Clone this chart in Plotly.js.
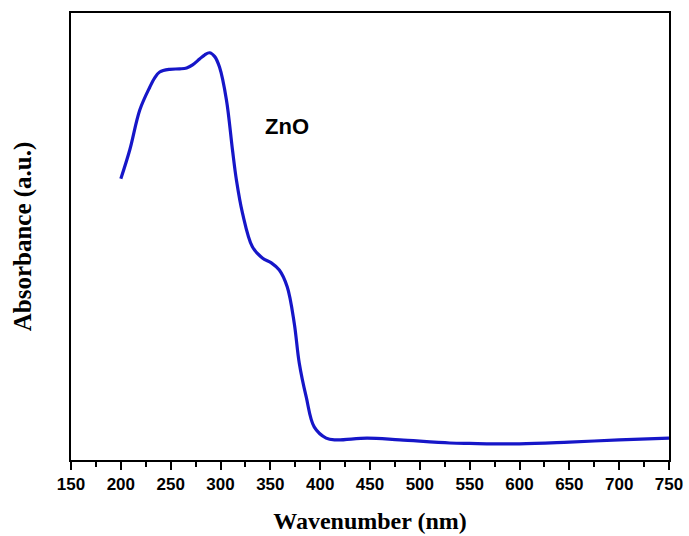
<!DOCTYPE html>
<html>
<head>
<meta charset="utf-8">
<script src="https://cdn.plot.ly/plotly-3.0.1.min.js"></script>
<style>html,body{margin:0;padding:0;background:#fff;}#chart{width:689px;height:536px;}</style>
</head>
<body>
<div id="chart"></div>
<script>
// Wavelength (nm) and absorbance (a.u.)
const wavelength = [200, 209, 219, 229, 234, 239, 249, 259, 266, 272, 279, 284, 289, 294, 299, 306, 312, 316, 322, 332, 342, 351, 359, 367, 374, 379, 386, 394, 406, 416, 447, 480, 530, 550, 600, 650, 700, 750];
const absorbance = [0.629, 0.694, 0.783, 0.834, 0.855, 0.868, 0.874, 0.875, 0.877, 0.884, 0.897, 0.906, 0.911, 0.903, 0.879, 0.805, 0.694, 0.626, 0.553, 0.477, 0.452, 0.441, 0.425, 0.387, 0.306, 0.217, 0.141, 0.074, 0.049, 0.045, 0.049, 0.045, 0.038, 0.037, 0.036, 0.040, 0.045, 0.049];
const xTickValues = [150, 200, 250, 300, 350, 400, 450, 500, 550, 600, 650, 700, 750];
const sampleLabel = "ZnO";
const labelPos = {x: 367, y: 0.745};

const trace = {
  x: wavelength, y: absorbance, type: 'scatter', mode: 'lines',
  line: {color: '#1616c8', width: 3.2, shape: 'spline', smoothing: 1},
  hoverinfo: 'skip'
};

const layout = {
  width: 689, height: 536,
  margin: {l: 71, r: 20, t: 13, b: 76},
  paper_bgcolor: '#fff', plot_bgcolor: '#fff',
  showlegend: false,
  xaxis: {
    range: [150, 750], tickvals: xTickValues, ticktext: xTickValues.map(String),
    ticks: 'outside', ticklen: 8, tickwidth: 2, tickcolor: '#000',
    minor: {dtick: 25, tick0: 150, ticks: 'outside', ticklen: 5, tickwidth: 2, tickcolor: '#000', showgrid: false},
    showline: true, linecolor: '#000', linewidth: 2, mirror: true,
    showgrid: false, zeroline: false,
    tickfont: {family: 'Liberation Sans, Arial, sans-serif', size: 17, color: '#000', weight: 'bold'},
    title: {text: 'Wavenumber (nm)', standoff: 19,
      font: {family: 'Liberation Serif, Times New Roman, serif', size: 24, color: '#000', weight: 'bold'}}
  },
  yaxis: {
    range: [0, 1], showticklabels: false, ticks: '',
    showline: true, linecolor: '#000', linewidth: 2, mirror: true,
    showgrid: false, zeroline: false,
    title: {text: 'Absorbance (a.u.)', standoff: 30,
      font: {family: 'Liberation Serif, Times New Roman, serif', size: 25, color: '#000', weight: 'bold'}}
  },
  annotations: [{
    x: labelPos.x, y: labelPos.y, xref: 'x', yref: 'y', text: sampleLabel, showarrow: false,
    font: {family: 'Liberation Sans, Arial, sans-serif', size: 22, color: '#000', weight: 'bold'}
  }]
};

Plotly.newPlot('chart', [trace], layout, {displayModeBar: false, staticPlot: true});
</script>
</body>
</html>
